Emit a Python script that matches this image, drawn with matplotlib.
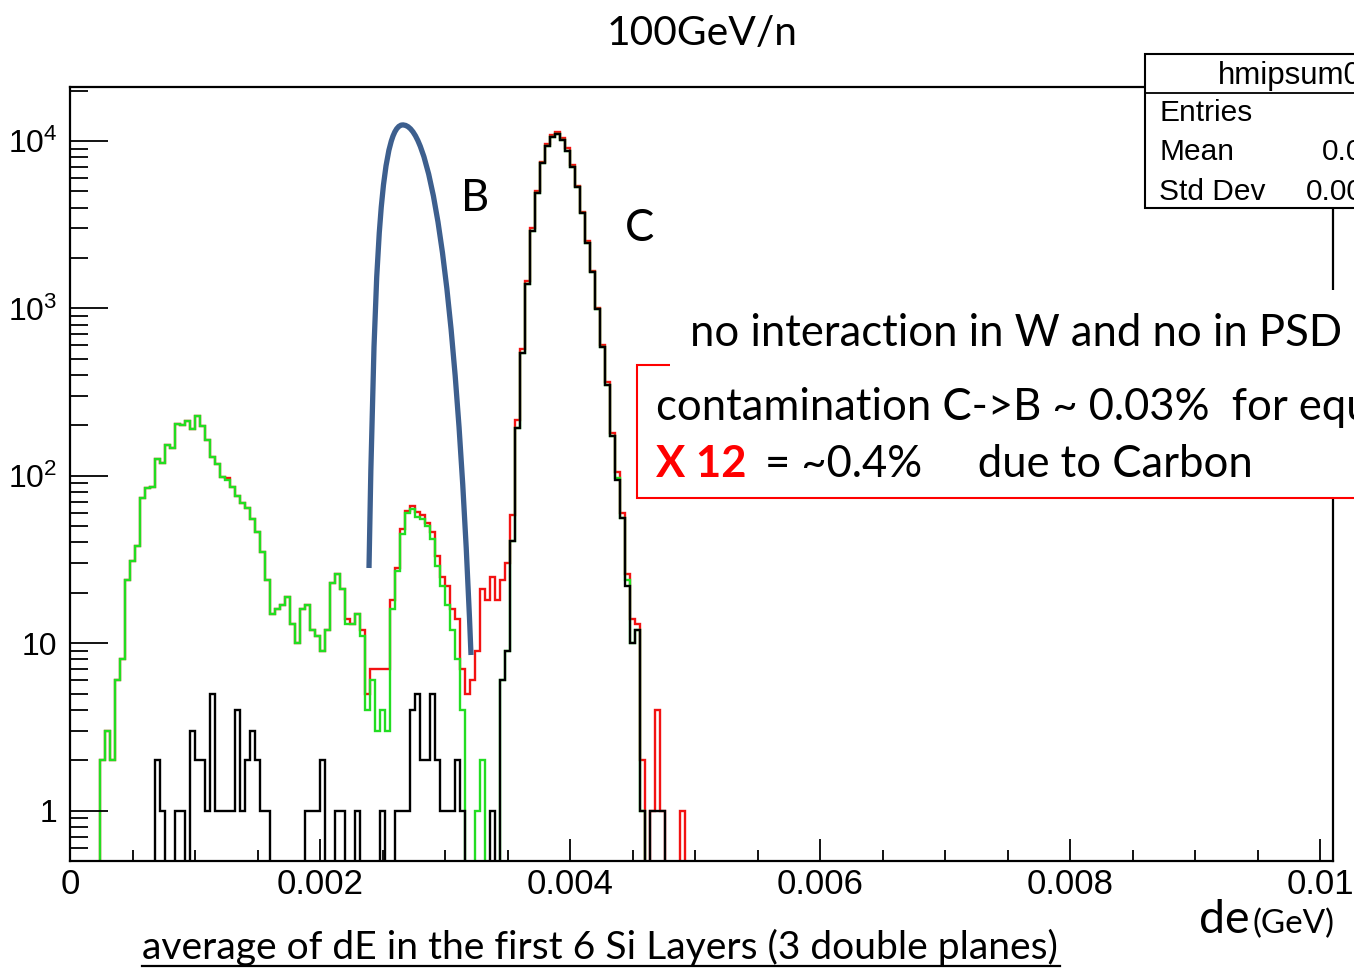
import numpy as np
import matplotlib
matplotlib.use("Agg")
import matplotlib.pyplot as plt
from matplotlib.patches import Rectangle, PathPatch
from matplotlib.path import Path
from matplotlib.lines import Line2D
from matplotlib.ticker import FixedLocator, LogLocator, MultipleLocator, FuncFormatter, NullFormatter

W, H = 1354, 973

# histogram binning: 4e-5 GeV per bin
BIN_WIDTH = 4e-5
N_BINS = 253

# counts per bin, starting at the first filled bin of each histogram
red_first = 6
red_counts = [2, 3, 2, 6, 8, 24, 31, 38, 74, 84, 86, 126, 120, 153, 147, 204, 200, 213, 190, 229,
              197, 163, 129, 118, 99, 97, 86, 76, 69, 64, 55, 46, 35, 24, 15, 16, 17, 19, 13, 10,
              16, 17, 12, 11, 9, 12, 23, 26, 21, 14, 13, 15, 12, 5, 7, 7, 7, 7, 18, 28,
              48, 62, 66, 61, 58, 52, 46, 33, 25, 22, 16, 14, 7, 5, 6, 9, 21, 18, 25, 18,
              24, 30, 58, 215, 570, 1450, 3000, 5000, 7500, 9600, 10900, 11300, 10400, 9050, 7200, 5400,
              3780, 2540, 1680, 1010, 605, 364, 180, 106, 60, 26, 14, 13, 2, 0, 1, 4, 1, 0, 0, 0, 1]

green_first = 6
green_counts = [2, 3, 2, 6, 8, 24, 31, 38, 74, 84, 86, 126, 120, 153, 147, 204, 200, 213, 190, 229,
                197, 163, 129, 118, 99, 94, 86, 76, 69, 64, 55, 46, 35, 24, 15, 16, 17, 19, 13, 10,
                16, 17, 12, 11, 9, 12, 23, 26, 21, 13, 13, 15, 11, 4, 6, 3, 4, 3, 16, 27,
                45, 60, 63, 57, 55, 50, 42, 29, 22, 17, 12, 8, 4, 0, 0, 1, 2, 0, 0, 0,
                6, 9, 41, 193, 540, 1400, 2910, 4880, 7360, 9330, 10600, 11000, 10200, 8750, 7030, 5290,
                3700, 2470, 1640, 990, 587, 349, 172, 97, 56, 24, 10, 12, 1]

black_first = 17
black_counts = [2, 1, 0, 0, 1, 1, 0, 3, 2, 2, 1, 5, 1, 1, 1, 1, 4, 1, 2, 3,
                2, 1, 1, 0, 0, 0, 0, 0, 0, 0, 1, 1, 1, 2, 0, 0, 1, 1, 0, 0,
                1, 0, 0, 0, 0, 1, 0, 0, 1, 1, 1, 4, 5, 2, 2, 5, 2, 1, 1, 1,
                2, 1, 0, 0, 0, 0, 0, 1, 0,
                6, 9, 41, 193, 540, 1400, 2910, 4880, 7360, 9330, 10600, 11000, 10200, 8750, 7030, 5290,
                3700, 2470, 1640, 990, 587, 349, 172, 95, 56, 22, 10, 12, 1, 0, 1, 1, 1]

x_major = [0, 0.002, 0.004, 0.006, 0.008, 0.01]
y_major = [1, 10, 100, 1000, 10000]
y_labels = ["1", "10", r"$10^{2}$", r"$10^{3}$", r"$10^{4}$"]

title = "100GeV/n"
stat_rows = [("Entries", ""), ("Mean", "0.003803"), ("Std Dev", "0.0004174")]

plt.rcParams["mathtext.fontset"] = "custom"
plt.rcParams["mathtext.rm"] = "Liberation Sans"
plt.rcParams["mathtext.it"] = "Liberation Sans"

TXT = ["Lato", "DejaVu Sans"]
ROOTFONT = ["Liberation Sans", "DejaVu Sans"]
NARROW = ["Liberation Sans Narrow", "Liberation Sans", "DejaVu Sans"]


def full_hist(first, counts):
    # empty bins are pushed below the frame, like ROOT does on a log axis
    vals = np.full(N_BINS, 1e-3)
    c = np.asarray(counts, dtype=float)
    c[c == 0] = 1e-3
    vals[first:first + len(c)] = c
    return vals


fig = plt.figure(figsize=(W / 100, H / 100), dpi=100)
renderer = fig.canvas.get_renderer()


def fx(x):
    return x / W


def fy(y):
    return 1 - y / H


def fitted(x0, x1, y, s, size=20, **kw):
    t = fig.text(fx(x0), fy(y), s, fontsize=size, ha="left", va="baseline", **kw)
    w = t.get_window_extent(renderer).width
    t.set_fontsize(size * (x1 - x0) / w)
    return t


ax = fig.add_axes([fx(70), fy(861), (1333 - 70) / W, (861 - 87) / H])
edges = np.arange(N_BINS + 1) * BIN_WIDTH
for first, counts, col in [(red_first, red_counts, "#f21212"),
                           (green_first, green_counts, "#22dd22"),
                           (black_first, black_counts, "black")]:
    ax.stairs(full_hist(first, counts), edges, baseline=None, color=col, lw=1.7)

ax.set_yscale("log")
ax.set_xlim(0, 0.0101)
ax.set_ylim(0.5, 21000)

ax.xaxis.set_major_locator(FixedLocator(x_major))
ax.xaxis.set_minor_locator(MultipleLocator(0.0005))
ax.xaxis.set_major_formatter(FuncFormatter(lambda v, p: f"{v:g}"))
ax.yaxis.set_major_locator(FixedLocator(y_major))
ax.yaxis.set_major_formatter(FuncFormatter(lambda v, p: y_labels[y_major.index(round(v))] if round(v) in y_major else ""))
ax.yaxis.set_minor_locator(LogLocator(base=10, subs=np.arange(2, 10)))
ax.yaxis.set_minor_formatter(NullFormatter())

ax.tick_params(axis="x", which="major", direction="in", length=16, width=1.3, pad=5, labelsize=25)
ax.tick_params(axis="x", which="minor", direction="in", length=8, width=1.3)
ax.tick_params(axis="y", which="major", direction="in", length=27, width=1.3, pad=9, labelsize=23)
ax.tick_params(axis="y", which="minor", direction="in", length=13, width=1.3)
for lab in ax.get_xticklabels():
    lab.set_family(NARROW)
for lab in ax.get_yticklabels():
    lab.set_family(ROOTFONT)
for sp in ax.spines.values():
    sp.set_linewidth(1.6)

# hand-drawn arc around the boron peak
arc = [(369, 568), (374, 300), (378, 128), (402, 125), (428, 122), (455, 250), (471, 655)]
codes = [Path.MOVETO] + [Path.CURVE4] * 6
fig.add_artist(PathPatch(Path([(fx(a), fy(b)) for a, b in arc], codes), transform=fig.transFigure,
                         fill=False, edgecolor="#3d5f8e", lw=3.8, capstyle="butt", zorder=4))

# statistics box
fig.add_artist(Rectangle((fx(1145), fy(208)), (1400 - 1145) / W, (208 - 54) / H,
                         transform=fig.transFigure, facecolor="white", edgecolor="black", lw=1.5, zorder=3))
fig.add_artist(Line2D([fx(1145), fx(1400)], [fy(93), fy(93)], color="black", lw=1.3, zorder=3))
fig.text(fx(1218), fy(84), "hmipsum0", fontsize=22.5, family=ROOTFONT, va="baseline", zorder=5)
for i, (name, val) in enumerate(stat_rows):
    yb = 121 + 39.5 * i
    fig.text(fx(1159), fy(yb), name, fontsize=21.5, family=ROOTFONT, va="baseline", zorder=5)
    if val:
        fig.text(fx(1322 - 16 * (i - 1)), fy(yb), val, fontsize=21.5, family=ROOTFONT, va="baseline", zorder=5)

# annotation boxes
fig.add_artist(Rectangle((fx(637), fy(498)), (1400 - 637) / W, (498 - 365) / H,
                         transform=fig.transFigure, facecolor="white", edgecolor="#ff0000", lw=1.5, zorder=3))
fig.add_artist(Rectangle((fx(670), fy(368)), (1400 - 670) / W, (368 - 290) / H,
                         transform=fig.transFigure, facecolor="white", edgecolor="none", zorder=3))

note = fitted(690, 1343, 346, "no interaction in W and no in PSD", family=TXT, zorder=5)
fs = note.get_fontsize()
fig.text(fx(656), fy(420), "contamination C->B ~ 0.03%  for equal flux", fontsize=fs, family=TXT,
         va="baseline", zorder=5)
fig.text(fx(656), fy(477), "X 12", fontsize=fs, family=TXT, weight="bold", color="#ff0000",
         va="baseline", zorder=5)
fig.text(fx(765), fy(477), "= ~0.4%     due to Carbon", fontsize=fs, family=TXT, va="baseline", zorder=5)
fig.text(fx(461), fy(211), "B", fontsize=fs, family=TXT, va="baseline", zorder=5)
fig.text(fx(625), fy(241), "C", fontsize=fs, family=TXT, va="baseline", zorder=5)

fitted(607, 798, 45, title, family=TXT, zorder=5)
fitted(142, 1060, 959, "average of dE in the first 6 Si Layers (3 double planes)", family=TXT, zorder=5)
fig.add_artist(Line2D([fx(142), fx(1060)], [fy(966), fy(966)], color="black", lw=1.6, zorder=5))
fitted(1199, 1250, 933, "de", family=TXT, zorder=5)
fitted(1252, 1334, 933, "(GeV)", family=TXT, zorder=5)

fig.savefig("out.png", dpi=100)
